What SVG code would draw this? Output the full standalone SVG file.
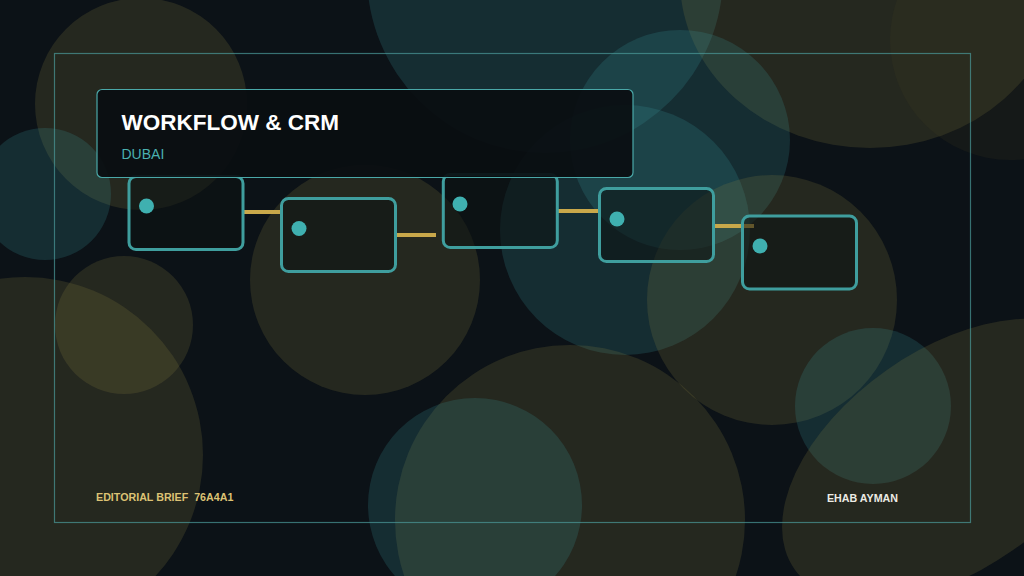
<svg xmlns="http://www.w3.org/2000/svg" width="1024" height="576" viewBox="0 0 1024 576">
<style>
.bg{fill:#0c1217}
.ol{fill:#8a8040;opacity:0.2}
.tl{fill:#3a9aa0;opacity:0.2}
.dk{fill:#4a4020;opacity:0.15}
.frame{fill:none;stroke:#4a9a9a;stroke-opacity:0.7;stroke-width:1.2}
.head{fill:#0a0e11;fill-opacity:0.93;stroke:#4aa8a8;stroke-width:1.2}
.node{fill:#0d1213;fill-opacity:0.55;stroke:#3f9e9e;stroke-width:3}
.dot{fill:#3fb0b0}
.conn{stroke:#c9a84a;stroke-width:4;fill:none}
.title{font-family:"Liberation Sans",Arial,sans-serif;font-weight:bold;font-size:22.5px;fill:#ffffff}
.sub{font-family:"Liberation Sans",Arial,sans-serif;font-size:14px;fill:#4ab0b0}
.foot{font-family:"Liberation Sans",Arial,sans-serif;font-weight:bold;font-size:10.7px}
</style>
<g id="background">
<rect class="bg" x="0" y="0" width="1024" height="576"/>
<circle class="tl" cx="545" cy="-25" r="178"/>
<ellipse class="ol" cx="870" cy="-20" rx="190" ry="168"/>
<circle class="dk" cx="1010" cy="40" r="120"/>
<circle class="ol" cx="141" cy="104" r="106"/>
<circle class="tl" cx="45" cy="194" r="66"/>
<circle class="tl" cx="680" cy="140" r="110"/>
<circle class="tl" cx="625" cy="230" r="125"/>
<circle class="ol" cx="365" cy="280" r="115"/>
<circle class="ol" cx="772" cy="300" r="125"/>
<circle class="ol" cx="124" cy="325" r="69"/>
<circle class="ol" cx="25" cy="455" r="178"/>
<circle class="ol" cx="570" cy="520" r="175"/>
<circle class="tl" cx="475" cy="505" r="107"/>
<circle class="tl" cx="873" cy="406" r="78"/>
<ellipse class="ol" cx="950" cy="460" rx="190" ry="110" transform="rotate(-35 950 460)"/>
<rect class="frame" x="54.5" y="53.5" width="916" height="469"/>
</g>
<g id="connectors">
<line class="conn" x1="244" y1="212" x2="283" y2="212"/>
<line class="conn" x1="396" y1="235" x2="436" y2="235"/>
<line class="conn" x1="557" y1="211" x2="598" y2="211"/>
<line class="conn" x1="714" y1="226" x2="754" y2="226"/>
</g>
<g id="node1">
<rect class="node" x="129" y="176.5" width="114" height="73" rx="7"/>
<circle class="dot" cx="146.5" cy="206" r="7.5"/>
</g>
<g id="node2">
<rect class="node" x="281.5" y="198.5" width="114" height="73" rx="7"/>
<circle class="dot" cx="299" cy="228.5" r="7.5"/>
</g>
<g id="node3">
<rect class="node" x="443.3" y="174.5" width="114" height="73" rx="7"/>
<circle class="dot" cx="460" cy="204" r="7.5"/>
</g>
<g id="node4">
<rect class="node" x="599.5" y="188.5" width="114" height="73" rx="7"/>
<circle class="dot" cx="617" cy="219" r="7.5"/>
</g>
<g id="node5">
<rect class="node" x="742.5" y="216" width="114" height="73" rx="7"/>
<circle class="dot" cx="760" cy="246" r="7.5"/>
</g>
<g id="header">
<rect class="head" x="97" y="89.5" width="536" height="88" rx="5"/>
<text class="title" x="121.5" y="129.5">WORKFLOW &amp; CRM</text>
<text class="sub" x="121.5" y="159">DUBAI</text>
</g>
<g id="footer">
<text class="foot" x="96" y="500.7" fill="#dcc274" xml:space="preserve">EDITORIAL BRIEF  76A4A1</text>
<text class="foot" x="898" y="502" fill="#ecebe4" text-anchor="end">EHAB AYMAN</text>
</g>
</svg>
